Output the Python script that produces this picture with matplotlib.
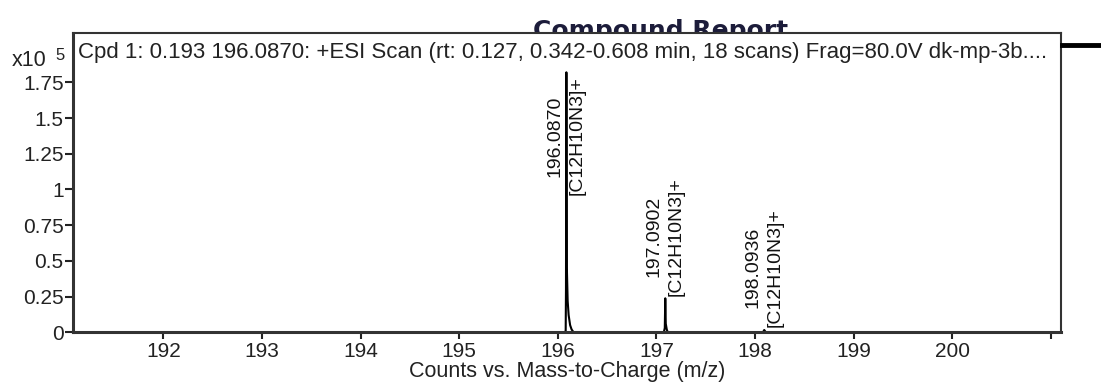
import matplotlib
matplotlib.use("Agg")
import matplotlib.pyplot as plt
from matplotlib.lines import Line2D

plt.rcParams['font.family'] = ['Liberation Sans', 'DejaVu Sans']

# spectrum profile (m/z, counts x10^5)
mz_196 = [196.070, 196.080, 196.083, 196.087, 196.092, 196.100, 196.110, 196.125, 196.140, 196.160]
int_196 = [0.0, 0.01, 0.30, 1.82, 0.45, 0.22, 0.12, 0.05, 0.02, 0.0]
mz_197 = [197.075, 197.085, 197.090, 197.095, 197.105, 197.115]
int_197 = [0.0, 0.03, 0.238, 0.06, 0.02, 0.0]
mz_198 = [198.080, 198.0936, 198.110]
int_198 = [0.0, 0.016, 0.0]

peak_mz = [196.0870, 197.0902, 198.0936]
peak_int = [1.82, 0.238, 0.016]
peak_formula = ["[C12H10N3]+", "[C12H10N3]+", "[C12H10N3]+"]

xticks = [192, 193, 194, 195, 196, 197, 198, 199, 200, 201]
xtick_labels = ["192", "193", "194", "195", "196", "197", "198", "199", "200", ""]
yticks = [0, 0.25, 0.5, 0.75, 1, 1.25, 1.5, 1.75]
ytick_labels = ["0", "0.25", "0.5", "0.75", "1", "1.25", "1.5", "1.75"]

title = "Cpd 1: 0.193 196.0870: +ESI Scan (rt: 0.127, 0.342-0.608 min, 18 scans) Frag=80.0V dk-mp-3b...."

fig = plt.figure(figsize=(11.01, 3.85), dpi=100)
ax = fig.add_axes([0.0666, 0.1369, 0.8968, 0.7766])

for mz, inten in [(mz_196, int_196), (mz_197, int_197), (mz_198, int_198)]:
    ax.plot(mz, inten, color="black", lw=1.5)

ax.set_xlim(191.087, 201.10)
ax.set_ylim(0, 2.093)

# peak labels
for mz, h, f in zip(peak_mz, peak_int, peak_formula):
    lab = f"{mz:.4f}\n{f}"
    if h > 1.0:
        ax.text(mz, 1.79, lab, rotation=90, ha="center", va="top",
                multialignment="center", fontsize=14, linespacing=1.4, color="#111111")
    else:
        ax.annotate(lab, xy=(mz, h), xytext=(0, 2), textcoords="offset points",
                    rotation=90, ha="center", va="bottom", multialignment="center",
                    fontsize=14, linespacing=1.4, color="#111111")

ax.text(0.005, 0.937, title, transform=ax.transAxes, ha="left", va="center",
        fontsize=16, color="#222222")

ax.set_xticks(xticks)
ax.set_xticklabels(xtick_labels)
ax.set_yticks(yticks)
ax.set_yticklabels(ytick_labels)
ax.tick_params(axis="both", labelsize=15, colors="#222222", direction="out", width=1.5)
ax.tick_params(axis="x", length=5, pad=2)
ax.tick_params(axis="y", length=6, pad=1)

for side in ["top", "right"]:
    ax.spines[side].set_linewidth(1.5)
    ax.spines[side].set_color("#333333")
for side in ["left", "bottom"]:
    ax.spines[side].set_linewidth(2.2)
    ax.spines[side].set_color("#333333")

ax.set_xlabel("Counts vs. Mass-to-Charge (m/z)", fontsize=15.5, color="#222222", labelpad=0)

# multiplier
fig.text(12 / 1101, 1 - 60 / 385, "x10", fontsize=15.5, ha="left", va="center", color="#222222")
fig.text(55 / 1101, 1 - 55 / 385, "5", fontsize=12, ha="left", va="center", color="#222222")

# report header, partly hidden behind the plot frame
fig.text(533 / 1101, 1 - 38 / 385, "Compound Report", fontsize=18, fontweight="bold",
         family="DejaVu Sans", color="#1c1c3a", ha="left", va="baseline", zorder=-1)
fig.add_artist(Line2D([1062 / 1101, 1.0], [1 - 45 / 385] * 2, lw=3.5, color="black"))

fig.savefig("out.png", dpi=100)
